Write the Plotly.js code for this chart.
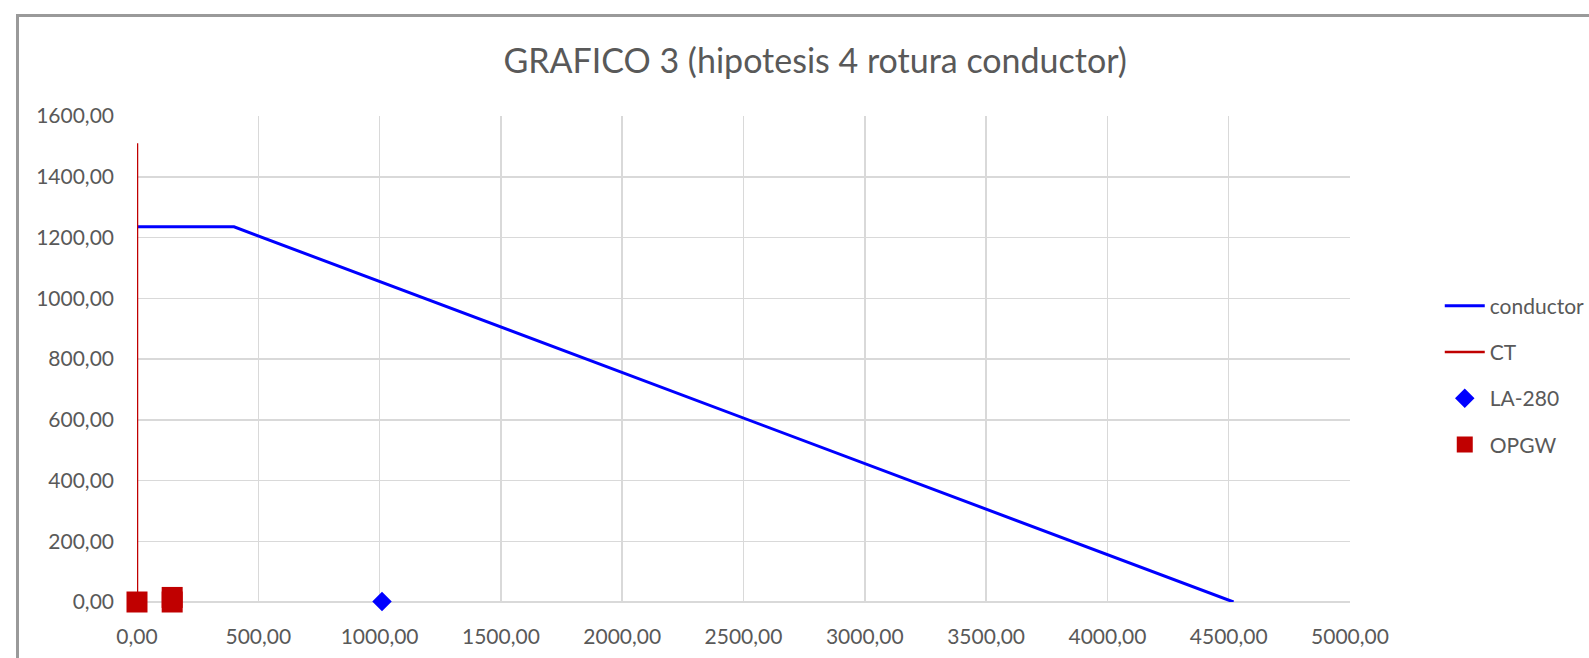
<!DOCTYPE html>
<html>
<head>
<meta charset="utf-8">
<script src="https://cdn.plot.ly/plotly-3.0.1.min.js"></script>
<style>
html,body{margin:0;padding:0;background:#fff;overflow:hidden;}
#chart{width:1589px;height:658px;}
#frame{position:absolute;left:16px;top:14px;width:3000px;height:3000px;border-left:3px solid #9a9a9a;border-top:3px solid #9a9a9a;pointer-events:none;}
</style>
</head>
<body>
<div id="chart"></div>
<div id="frame"></div>
<script>
// Data
var conductorX = [0, 400, 4520];
var conductorY = [1235, 1235, 0];
var ctX = [0, 0];
var ctY = [0, 1510];
var la280X = [1010];
var la280Y = [2];
var opgwX = [0, 145, 145];
var opgwY = [0, 0, 15];
var xTicks = [0, 500, 1000, 1500, 2000, 2500, 3000, 3500, 4000, 4500, 5000];
var yTicks = [0, 200, 400, 600, 800, 1000, 1200, 1400, 1600];
var titleText = 'GRAFICO 3 (hipotesis 4 rotura conductor)';

var fontFam = 'Lato, "Open Sans", sans-serif';
var textGray = '#595959';

var traces = [
  {x: conductorX, y: conductorY, name: 'conductor', type: 'scatter', mode: 'lines',
   line: {color: '#0000ff', width: 3}, legendgroup: 'a'},
  {x: ctX, y: ctY, name: 'CT', type: 'scatter', mode: 'lines',
   line: {color: '#c00000', width: 2.5}, legendgroup: 'b'},
  {x: la280X, y: la280Y, name: 'LA-280', type: 'scatter', mode: 'markers', cliponaxis: false,
   marker: {symbol: 'diamond', color: '#0000ff', size: 15}, legendgroup: 'c'},
  {x: opgwX, y: opgwY, name: 'OPGW', type: 'scatter', mode: 'markers', cliponaxis: false,
   marker: {symbol: 'square', color: '#c00000', size: 21}, legendgroup: 'd'}
];

var layout = {
  width: 1589, height: 658,
  paper_bgcolor: '#ffffff', plot_bgcolor: '#ffffff',
  margin: {l: 137, r: 239, t: 116, b: 56, pad: 0, autoexpand: false},
  separators: ',.',
  font: {family: fontFam, color: textGray, size: 21},
  title: {text: titleText, font: {family: fontFam, size: 34, color: textGray},
          x: 0.513, xanchor: 'center', y: 0.907, yanchor: 'middle'},
  xaxis: {range: [0, 5000], tickvals: xTicks, tickformat: '.2f',
          showgrid: true, gridcolor: '#d9d9d9', gridwidth: 1.5,
          zeroline: false, showline: false, ticks: '',
          ticklabelstandoff: 20, tickfont: {size: 21, color: textGray}, fixedrange: true},
  yaxis: {range: [0, 1600], tickvals: yTicks, tickformat: '.2f',
          showgrid: true, gridcolor: '#d9d9d9', gridwidth: 1.5,
          zeroline: true, zerolinecolor: '#d9d9d9', zerolinewidth: 1.5,
          showline: false, ticks: '',
          ticklabelstandoff: 22, tickfont: {size: 21, color: textGray}, fixedrange: true},
  showlegend: true,
  legend: {x: 1.074, xanchor: 'left', y: 0.466, yanchor: 'middle',
           traceorder: 'grouped', tracegroupgap: 16,
           font: {size: 21, color: textGray, family: fontFam},
           bgcolor: 'rgba(0,0,0,0)', itemwidth: 40}
};

Plotly.newPlot('chart', traces, layout, {displayModeBar: false, staticPlot: true});
</script>
</body>
</html>
